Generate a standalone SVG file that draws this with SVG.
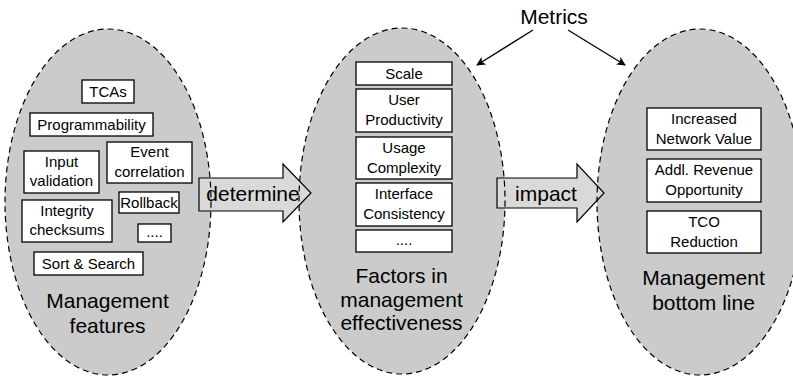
<svg xmlns="http://www.w3.org/2000/svg" width="793" height="376" viewBox="0 0 793 376">
<style>
.bg{fill:#cbcbcb;stroke:none}
.ol{fill:none;stroke:#000;stroke-width:1.2;stroke-dasharray:6,4}
.box{fill:#fff;stroke:#000;stroke-width:1.3}
.t{font-family:"Liberation Sans",Arial,sans-serif;font-size:15px;text-anchor:middle;fill:#000}
.big{font-family:"Liberation Sans",Arial,sans-serif;font-size:21px;text-anchor:middle;fill:#000}
.arr{fill:#d9d9d9;stroke:#000;stroke-width:1.2;stroke-linejoin:miter}
.ln{fill:none;stroke:#000;stroke-width:1.3}
</style>
<defs>
<marker id="ah" viewBox="0 0 10 10" refX="9" refY="5" markerWidth="9" markerHeight="9" markerUnits="userSpaceOnUse" orient="auto">
<path d="M0,0 L10,5 L0,10 L2.5,5 Z" fill="#000"/>
</marker>
</defs>
<rect width="793" height="376" fill="#fff"/>
<g id="backgrounds">
<ellipse class="bg" cx="108" cy="202" rx="103" ry="173"/>
<ellipse class="bg" cx="402" cy="201" rx="103" ry="173"/>
<ellipse class="bg" cx="700" cy="202" rx="103" ry="173"/>
</g>
<g id="connectors">
<path class="arr" d="M199,178 H283 V164 L311,193 L283,222 V211 H199 Z"/>
<text class="big" x="253" y="201">determine</text>
<path class="arr" d="M497,178 H577 V164 L604,193 L577,222 V208 H497 Z"/>
<text class="big" x="546" y="201">impact</text>
<line class="ln" x1="533" y1="30" x2="477" y2="65" marker-end="url(#ah)"/>
<line class="ln" x1="568" y1="30" x2="625" y2="65" marker-end="url(#ah)"/>
<text class="big" x="554" y="24">Metrics</text>
</g>
<g id="features">
<ellipse class="ol" cx="108" cy="202" rx="103" ry="173"/>
<rect class="box" x="82" y="80" width="52" height="23"/>
<text class="t" x="108" y="97">TCAs</text>
<rect class="box" x="30" y="113" width="123" height="23"/>
<text class="t" x="91.5" y="130">Programmability</text>
<rect class="box" x="24" y="151" width="75" height="42"/>
<text class="t" x="61.5" y="167">Input</text>
<text class="t" x="61.5" y="186">validation</text>
<rect class="box" x="107" y="142" width="85" height="41"/>
<text class="t" x="149.5" y="157">Event</text>
<text class="t" x="149.5" y="176.5">correlation</text>
<rect class="box" x="119" y="192" width="60" height="21"/>
<text class="t" x="149" y="208">Rollback</text>
<rect class="box" x="22" y="200" width="90" height="42"/>
<text class="t" x="67" y="216">Integrity</text>
<text class="t" x="67" y="235">checksums</text>
<rect class="box" x="138" y="224" width="33" height="18"/>
<text class="t" x="154.5" y="237">....</text>
<rect class="box" x="34" y="252" width="109" height="23"/>
<text class="t" x="88.5" y="269">Sort &amp; Search</text>
<text class="big" x="107.5" y="308">Management</text>
<text class="big" x="107.5" y="333">features</text>
</g>
<g id="factors">
<ellipse class="ol" cx="402" cy="201" rx="103" ry="173"/>
<rect class="box" x="356" y="62" width="96" height="23"/>
<text class="t" x="404" y="79">Scale</text>
<rect class="box" x="356" y="89" width="96" height="43"/>
<text class="t" x="404" y="105">User</text>
<text class="t" x="404" y="124.5">Productivity</text>
<rect class="box" x="356" y="137" width="96" height="42"/>
<text class="t" x="404" y="153">Usage</text>
<text class="t" x="404" y="172.5">Complexity</text>
<rect class="box" x="356" y="183" width="96" height="43"/>
<text class="t" x="404" y="199">Interface</text>
<text class="t" x="404" y="218.5">Consistency</text>
<rect class="box" x="356" y="230" width="96" height="22"/>
<text class="t" x="404" y="245">....</text>
<text class="big" x="401.5" y="283">Factors in</text>
<text class="big" x="401.5" y="306.5">management</text>
<text class="big" x="401.5" y="330">effectiveness</text>
</g>
<g id="bottomline">
<ellipse class="ol" cx="700" cy="202" rx="103" ry="173"/>
<rect class="box" x="647" y="108" width="114" height="42"/>
<text class="t" x="704" y="124">Increased</text>
<text class="t" x="704" y="143.5">Network Value</text>
<rect class="box" x="647" y="159" width="114" height="43"/>
<text class="t" x="704" y="175">Addl. Revenue</text>
<text class="t" x="704" y="194.5">Opportunity</text>
<rect class="box" x="647" y="211" width="114" height="42"/>
<text class="t" x="704" y="227">TCO</text>
<text class="t" x="704" y="246.5">Reduction</text>
<text class="big" x="703.5" y="285">Management</text>
<text class="big" x="703.5" y="310">bottom line</text>
</g>
</svg>
